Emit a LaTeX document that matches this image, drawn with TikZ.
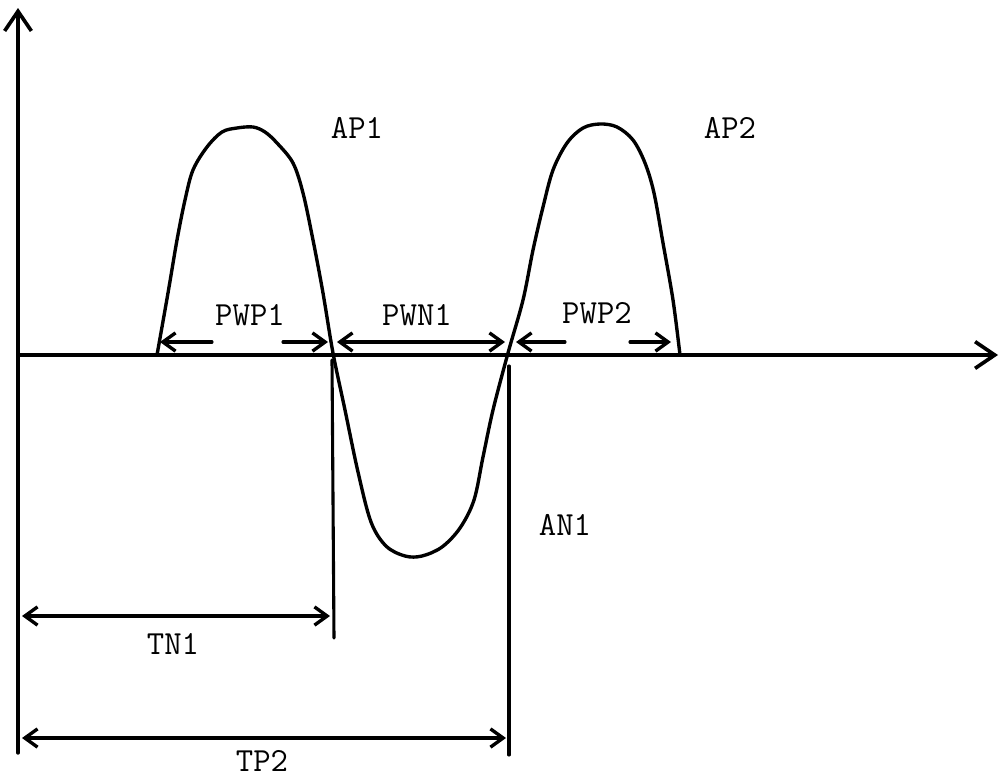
\documentclass[tikz,border=0pt]{standalone}
\usetikzlibrary{arrows.meta}
\tikzset{
  ink/.style={line width=2.4pt, line cap=round, line join=round, black},
  axisline/.style={ink, -{Straight Barb[length=14pt,width=19pt,line width=2.6pt]}},
  dimline/.style={ink, line width=2.2pt},
  tipend/.style={-{Straight Barb[length=9pt,width=13pt,line width=2.4pt]}},
  tipboth/.style={{Straight Barb[length=9pt,width=13pt,line width=2.4pt]}-{Straight Barb[length=9pt,width=13pt,line width=2.4pt]}},
  lbl/.style={font=\ttfamily\fontsize{24}{26}\selectfont, inner sep=0pt}
}
\begin{document}
\begin{tikzpicture}[x=0.025cm, y=-0.025cm]
\useasboundingbox (0,0) rectangle (999,778);
% axes
\coordinate (o) at (18,355);
\coordinate (ybot) at (18,753);
\coordinate (ytop) at (18,8);
\coordinate (xend) at (998,355);
\draw[axisline] (ybot) -- (ytop);
\draw[axisline] (o) -- (xend);
% waveform
\draw[ink] plot[smooth, tension=0.55] coordinates {
 (157,355) (168,293) (177,240) (185,200) (193,170) (207,147) (222,132)
 (237,128) (253,127) (265,132) (277,143) (293,163) (303,193) (313,240)
 (323,293) (333,353) (345,410) (358,472) (371,522) (386,546) (405,556)
 (422,556) (442,547) (460,528) (474,500) (483,457) (493,410) (508,353)
 (523,300) (533,250) (543,207) (553,170) (567,143) (583,128) (600,124)
 (617,127) (633,140) (645,163) (654,193) (663,243) (673,300) (680,355)};
% marker lines
\coordinate (m1t) at (332,360);
\coordinate (m1b) at (334,638);
\coordinate (m2t) at (509,366);
\coordinate (m2b) at (509,755);
\draw[dimline] (m1t) -- (m1b);
\draw[dimline] (m2t) -- (m2b);
% PWP1
\coordinate (p1a) at (212,342); \coordinate (p1b) at (160,342);
\coordinate (p1c) at (283,342); \coordinate (p1d) at (328,342);
\draw[dimline, tipend] (p1a) -- (p1b);
\draw[dimline, tipend] (p1c) -- (p1d);
% PWN1
\coordinate (n1a) at (337,342); \coordinate (n1b) at (505,342);
\draw[dimline, tipboth] (n1a) -- (n1b);
% PWP2
\coordinate (p2a) at (565,342); \coordinate (p2b) at (516,342);
\coordinate (p2c) at (630,342); \coordinate (p2d) at (671,342);
\draw[dimline, tipend] (p2a) -- (p2b);
\draw[dimline, tipend] (p2c) -- (p2d);
% TN1, TP2
\coordinate (t1a) at (22,616); \coordinate (t1b) at (330,616);
\draw[dimline, tipboth] (t1a) -- (t1b);
\coordinate (t2a) at (22,738); \coordinate (t2b) at (506,738);
\draw[dimline, tipboth] (t2a) -- (t2b);
% labels
\node[lbl] (lpwp1) at (250,315) {PWP1};
\node[lbl] (lpwn1) at (417,315) {PWN1};
\node[lbl] (lpwp2) at (597,313) {PWP2};
\node[lbl] (lap1) at (357,128) {AP1};
\node[lbl] (lap2) at (730,128) {AP2};
\node[lbl] (lan1) at (565,525) {AN1};
\node[lbl] (ltn1) at (173,644) {TN1};
\node[lbl] (ltp2) at (262,761) {TP2};
\end{tikzpicture}
\end{document}
